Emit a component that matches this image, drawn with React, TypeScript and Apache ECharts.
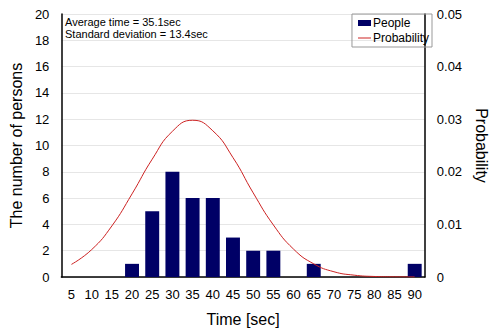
import React, { useEffect, useRef } from "react";
import * as echarts from "echarts";

const categories = ["5","10","15","20","25","30","35","40","45","50","55","60","65","70","75","80","85","90"];
const people = [0,0,0,1,5,8,6,6,3,2,2,0,1,0,0,0,0,1];
const probability = [0.0024,0.0052,0.0097,0.0158,0.0224,0.0277,0.0298,0.0278,0.0227,0.0160,0.0099,0.0053,0.0025,0.0010,0.00035,0.0001,0.00003,0.00001];
const annotation = ["Average time = 35.1sec", "Standard deviation = 13.4sec"];

const FONT = "'Liberation Sans', Arial, sans-serif";

export default function App() {
  const ref = useRef<HTMLDivElement>(null);
  useEffect(() => {
    if (!ref.current) return;
    const chart = echarts.init(ref.current, undefined, { renderer: "svg" });
    chart.setOption({
      animation: false,
      textStyle: { fontFamily: FONT },
      grid: { left: 59, right: 61, top: 14, bottom: 52 },
      legend: {
        right: 65,
        top: 14,
        orient: "vertical",
        itemGap: 3,
        itemWidth: 13,
        itemHeight: 6,
        padding: [3, 3, 3, 6],
        borderColor: "#999",
        borderWidth: 1,
        textStyle: { fontSize: 12, color: "#000", fontFamily: FONT, padding: [0, 0, 0, -3] },
        data: [
          { name: "People", icon: "rect" },
          { name: "Probability", icon: "path://M0,0 L26,0 L26,2 L0,2 Z" },
        ],
      },
      graphic: [
        {
          type: "text",
          left: 65,
          top: 16,
          style: {
            text: annotation.join("\n"),
            font: `11px ${FONT}`,
            fill: "#000",
            lineHeight: 12,
          },
        },
      ],
      xAxis: {
        type: "category",
        data: categories,
        name: "Time [sec]",
        nameLocation: "middle",
        nameGap: 34,
        nameTextStyle: { fontSize: 16, color: "#000", fontFamily: FONT },
        axisLine: { lineStyle: { color: "#000", width: 1.5 } },
        axisTick: { show: false },
        axisLabel: { interval: 0, fontSize: 13, color: "#000", margin: 11, fontFamily: FONT },
      },
      yAxis: [
        {
          type: "value",
          min: 0,
          max: 20,
          interval: 2,
          name: "The number of persons",
          nameLocation: "middle",
          nameGap: 34,
          nameTextStyle: { fontSize: 16, color: "#000", fontFamily: FONT },
          axisLine: { show: true, lineStyle: { color: "#000", width: 1.5 } },
          axisTick: { show: false },
          axisLabel: { fontSize: 13, color: "#000", margin: 12, fontFamily: FONT },
          splitLine: { lineStyle: { color: "#e6e6e6" } },
        },
        {
          type: "value",
          min: 0,
          max: 0.05,
          interval: 0.01,
          name: "Probability",
          nameLocation: "middle",
          nameGap: 44,
          nameRotate: -90,
          nameTextStyle: { fontSize: 16, color: "#000", fontFamily: FONT },
          axisLine: { show: true, lineStyle: { color: "#000", width: 1.5 } },
          axisTick: { show: false },
          axisLabel: { fontSize: 13, color: "#000", margin: 12, fontFamily: FONT },
          splitLine: { show: false },
        },
      ],
      series: [
        {
          name: "People",
          type: "bar",
          data: people,
          barCategoryGap: "31%",
          itemStyle: { color: "#000066" },
        },
        {
          name: "Probability",
          type: "line",
          yAxisIndex: 1,
          data: probability,
          smooth: true,
          symbol: "none",
          lineStyle: { color: "#cc2222", width: 1 },
          itemStyle: { color: "#cc2222" },
        },
      ],
    });
    return () => chart.dispose();
  }, []);
  return <div ref={ref} style={{ position: "absolute", left: 0, top: 0, width: 497, height: 332 }} />;
}
